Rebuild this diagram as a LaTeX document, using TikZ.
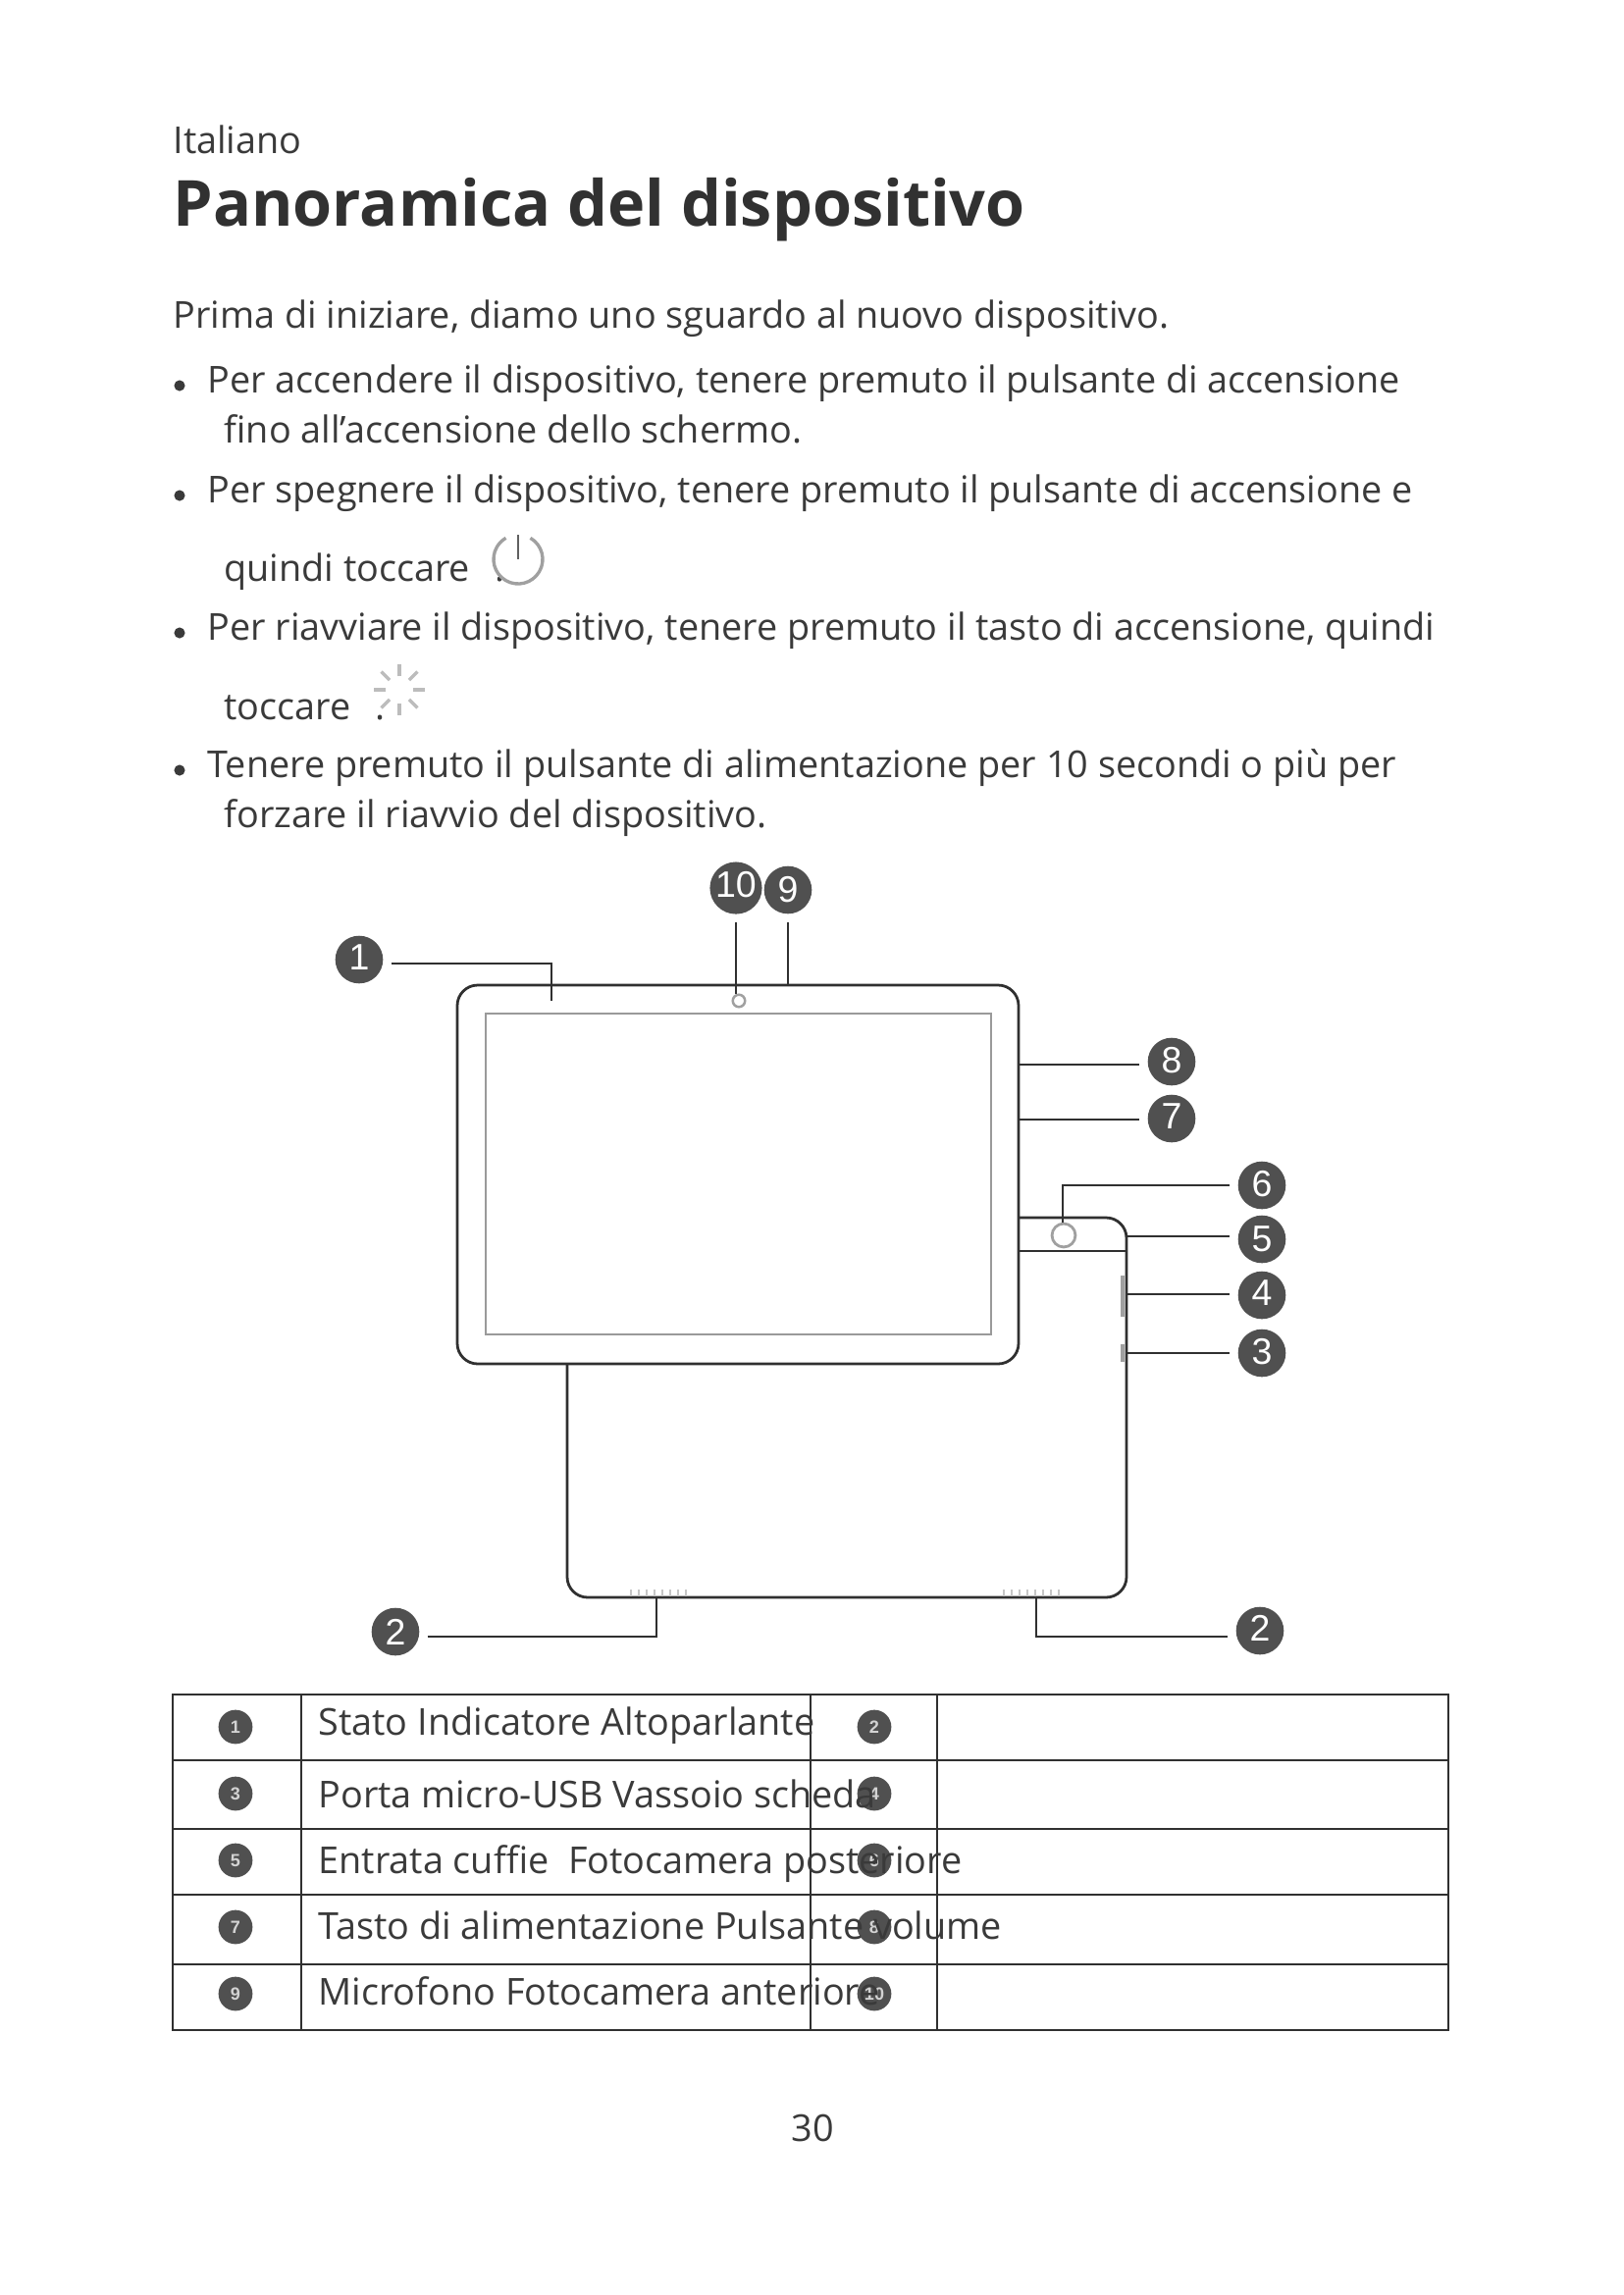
\documentclass[tikz,border=0pt]{standalone}
\usepackage{fontspec}
\setmainfont{Open Sans}
\newfontfamily\digitfont{Liberation Sans}
\usetikzlibrary{calc,positioning}
\definecolor{inktext}{HTML}{3A3A3A}
\definecolor{inkdisc}{HTML}{505050}
\definecolor{inkline}{HTML}{303030}
\definecolor{inkscreen}{HTML}{9A9A9A}
\definecolor{inkicon}{HTML}{A0A0A0}

\begin{document}
\begin{tikzpicture}[x=0.36pt,y=-0.36pt,
   txt/.style={anchor=base west,inner sep=0pt,text=inktext,font=\fontsize{13.6}{16}\selectfont},
   heading/.style={txt,text=inktext!85!black,font=\fontsize{23.3}{27}\selectfont\bfseries},
   dot/.style={circle,fill=inktext,inner sep=0pt,minimum size=4pt},
   callout/.style={circle,fill=inkdisc,inner sep=0pt,minimum size=17.5pt,outer sep=3pt,
               text=white,font=\digitfont\fontsize{13.5}{14}\selectfont},
   cellnum/.style={circle,fill=inkdisc,inner sep=0pt,minimum size=12.5pt,
               text=white!75!inkdisc,font=\digitfont\fontsize{6.5}{7}\selectfont\bfseries},
   lead/.style={draw=inkline,line width=0.85pt},
   tablet/.style={draw=inkline,line width=1pt,rounded corners=7.5pt},
   grid/.style={draw=inkline,line width=0.85pt}]
  \useasboundingbox (0,0) rectangle (1654,2339);
  \fill[white] (0,0) rectangle (1654,2339);

  % page text
  \node[txt] (lang) at (176,156) {Italiano};
  \node[heading] (title) at (176,230) {Panoramica del dispositivo};
  \node[txt] (intro) at (176,334) {Prima di iniziare, diamo uno sguardo al nuovo dispositivo.};
  \node[dot] (b1) at (183,393) {};
  \node[txt] (l1) at (211,400) {Per accendere il dispositivo, tenere premuto il pulsante di accensione};
  \node[txt] (l2) at (228,451) {fino all'accensione dello schermo.};
  \node[dot] (b2) at (183,505) {};
  \node[txt] (l3) at (211,512) {Per spegnere il dispositivo, tenere premuto il pulsante di accensione e};
  \node[txt] (l4) at (228,592) {quindi toccare};
  \node[txt] (l4dot) at (504,592) {.};
  \node[dot] (b3) at (183,645) {};
  \node[txt] (l5) at (211,652) {Per riavviare il dispositivo, tenere premuto il tasto di accensione, quindi};
  \node[txt] (l6) at (228,733) {toccare};
  \node[txt] (l6dot) at (382,733) {.};
  \node[dot] (b4) at (183,785) {};
  \node[txt] (l7) at (211,792) {Tenere premuto il pulsante di alimentazione per 10 secondi o più per};
  \node[txt] (l8) at (228,843) {forzare il riavvio del dispositivo.};

  % icons
  \draw[inkicon,line width=1.2pt] (528,570) ++(-60:25) arc (-60:240:25);
  \draw[inktext!80,line width=0.8pt] (528,545) -- (528,570);
  \foreach \a in {0,45,...,315}
    \draw[inkicon!70,line width=1.2pt] (407,703) ++(\a:14) -- ++(\a:12);

  % tablet
  \draw[tablet] (466,1004) rectangle (1038,1390);
  \draw[draw=inkscreen,line width=0.8pt] (495,1033) rectangle (1010,1360);
  \node[circle,draw=inkicon,line width=0.9pt,inner sep=0pt,minimum size=4.5pt] (frontcam) at (753,1020) {};
  \draw[tablet] (1038,1241) -- (1148,1241) -- (1148,1628) -- (578,1628) -- (578,1390);
  \draw[draw=inkline,line width=1pt] (1038,1275) -- (1148,1275);
  \node[circle,draw=inkicon,line width=1pt,inner sep=0pt,minimum size=8.6pt,fill=white] (rearcam) at (1084,1259) {};
  \draw[inkicon,line width=1.6pt] (1144,1300) -- (1144,1342) (1144,1370) -- (1144,1388);
  \foreach \x in {643,651,...,699,1023,1031,...,1083}
    \draw[inkicon!60,line width=0.5pt] (\x,1620) -- (\x,1627);

  % callouts
  \node[callout] (c1) at (366,978) {\raisebox{1.5pt}{1}};
  \node[callout] (c10) at (750,905) {\raisebox{2.5pt}{10}};
  \node[callout] (c9) at (803,907) {9};
  \node[callout] (c8) at (1194,1082) {\raisebox{1.5pt}{8}};
  \node[callout] (c7) at (1194,1140) {\raisebox{1.5pt}{7}};
  \node[callout] (c6) at (1286,1208) {\raisebox{1.5pt}{6}};
  \node[callout] (c5) at (1286,1263) {5};
  \node[callout] (c4) at (1286,1320) {\raisebox{1.5pt}{4}};
  \node[callout] (c3) at (1286,1379) {\raisebox{1.5pt}{3}};
  \node[callout] (c2a) at (403,1663) {2};
  \node[callout] (c2b) at (1284,1662) {\raisebox{2pt}{2}};

  % leader lines
  \coordinate (p1) at (562,982);
  \coordinate (p1end) at (562,1020);
  \coordinate (p8) at (1038,1085);
  \coordinate (p7) at (1038,1141);
  \coordinate (p6) at (1083,1208);
  \coordinate (p5) at (1148,1260);
  \coordinate (p4) at (1148,1319);
  \coordinate (p3) at (1148,1379);
  \coordinate (p2a) at (669,1668);
  \coordinate (p2aend) at (669,1628);
  \coordinate (p2b) at (1056,1668);
  \coordinate (p2bend) at (1056,1628);
  \coordinate (topedge) at (802,1004);
  \draw[lead] (c1.east |- p1) -- (p1) -- (p1end);
  \draw[lead] (c10.south) -- (c10.south |- frontcam.north);
  \draw[lead] (c9.south) -- (c9.south |- topedge);
  \draw[lead] (p8) -- (c8.west |- p8);
  \draw[lead] (p7) -- (c7.west |- p7);
  \draw[lead] (c6.west |- p6) -- (p6) -- (p6 |- rearcam.north);
  \draw[lead] (p5) -- (c5.west |- p5);
  \draw[lead] (p4) -- (c4.west |- p4);
  \draw[lead] (p3) -- (c3.west |- p3);
  \draw[lead] (c2a.east |- p2a) -- (p2a) -- (p2aend);
  \draw[lead] (p2bend) -- (p2b) -- (c2b.west |- p2b);

  % table
  \draw[grid] (176,1727) rectangle (1476,2069);
  \foreach \yy in {1794,1864,1931,2002}
    \draw[grid] (176,\yy) -- (1476,\yy);
  \foreach \xx in {307,826,955}
    \draw[grid] (\xx,1727) -- (\xx,2069);
  \node[cellnum] (n1) at (240,1760) {1};
  \node[cellnum] (n2) at (891,1760) {2};
  \node[cellnum] (n3) at (240,1828) {3};
  \node[cellnum] (n4) at (891,1828) {4};
  \node[cellnum] (n5) at (240,1896) {5};
  \node[cellnum] (n6) at (891,1896) {6};
  \node[cellnum] (n7) at (240,1964) {7};
  \node[cellnum] (n8) at (891,1964) {8};
  \node[cellnum] (n9) at (240,2032) {9};
  \node[cellnum] (n10) at (891,2032) {10};
  \node[txt] (t1) at (324,1768) {Stato Indicatore Altoparlante};
  \node[txt] (t2) at (324,1842) {Porta micro-USB Vassoio scheda};
  \node[txt] (t3) at (324,1909) {Entrata cuffie\ \ Fotocamera posteriore};
  \node[txt] (t4) at (324,1976) {Tasto di alimentazione Pulsante volume};
  \node[txt] (t5) at (324,2043) {Microfono Fotocamera anteriore};
  \node[txt,anchor=base] (pageno) at (828,2182) {30};
\end{tikzpicture}
\end{document}
